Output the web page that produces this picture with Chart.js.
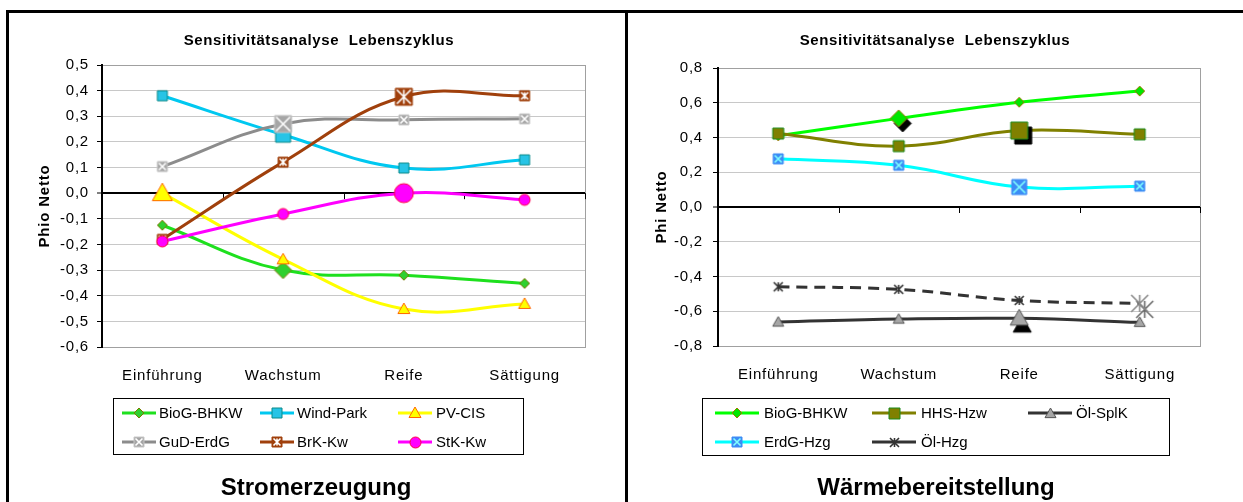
<!DOCTYPE html>
<html lang="de">
<head>
<meta charset="UTF-8">
<title>Sensitivitätsanalyse Lebenszyklus</title>
<script src="https://cdn.jsdelivr.net/npm/chart.js@4.4.1/dist/chart.umd.min.js"></script>
<style>
    body { margin: 0; width: 1243px; height: 502px; overflow: hidden; background: #fff; position: relative; }
    .panel { position: absolute; top: 10px; height: 600px; border-left: 3px solid #000; border-top: 3px solid #000; }
    #p1 { left: 6px; width: 640px; }
    #p2 { left: 625px; width: 700px; }
    canvas { position: absolute; top: 0; }
    #c1 { left: 0; }
    #c2 { left: 626px; }
</style>
</head>
<body>
<div class="panel" id="p1"></div>
<div class="panel" id="p2"></div>
<canvas id="c1" width="626" height="502"></canvas>
<canvas id="c2" width="617" height="502"></canvas>
<script>
// ---- data ----
const categories = ['Einführung', 'Wachstum', 'Reife', 'Sättigung'];

// Stromerzeugung
const stromNames = ['BioG-BHKW', 'Wind-Park', 'PV-CIS', 'GuD-ErdG', 'BrK-Kw', 'StK-Kw'];
const biogStrom = [-0.125, -0.30, -0.32, -0.352];
const windPark  = [0.38, 0.228, 0.098, 0.13];
const pvCis     = [0.0, -0.258, -0.452, -0.432];
const gudErdg   = [0.104, 0.27, 0.286, 0.29];
const brkKw     = [-0.18, 0.121, 0.376, 0.38];
const stkKw     = [-0.188, -0.081, 0.0, -0.026];
const stromHighlight = [1, 1, 0, 1, 2, 2];   // which point is drawn large
const stromTicks = [-0.6, -0.5, -0.4, -0.3, -0.2, -0.1, 0, 0.1, 0.2, 0.3, 0.4, 0.5];

// Wärmebereitstellung
const waermeNames = ['BioG-BHKW', 'HHS-Hzw', 'Öl-SplK', 'ErdG-Hzg', 'Öl-Hzg'];
const biogWaerme = [0.41, 0.51, 0.603, 0.667];
const hhsHzw     = [0.423, 0.35, 0.44, 0.418];
const oelSplk    = [-0.662, -0.645, -0.641, -0.664];
const erdgHzg    = [0.277, 0.24, 0.115, 0.12];
const oelHzg     = [-0.459, -0.474, -0.538, -0.555];
const waermeHighlight = [1, 2, 2, 2, 3];
const waermeTicks = [-0.8, -0.6, -0.4, -0.2, 0, 0.2, 0.4, 0.6, 0.8];

const fontFamily = '"Liberation Sans", Arial, sans-serif';

// ---- marker look ----
const stromStyles = [
    { line: '#1EE01E', kind: 'diamond', fill: '#2FD02F', stroke: '#7A7A00', size: 10, big: 17 },
    { line: '#00C8F0', kind: 'square', fill: '#27C4E6', stroke: '#0A8A8A', size: 10, big: 15 },
    { line: '#FFFF00', kind: 'triangle', fill: '#FFFF00', stroke: '#FF6600', size: 12, big: 20 },
    { line: '#8C8C8C', kind: 'square', fill: '#A6A6A6', stroke: '#C8C8C8', mark: { color: '#FFFFFF' }, size: 10, big: 17 },
    { line: '#A0400C', kind: 'square', fill: '#A0400C', stroke: '#A0400C', mark: { color: '#FFFFFF', star: true }, size: 10, big: 17 },
    { line: '#FF00FF', kind: 'circle', fill: '#FF00FF', stroke: '#FF0040', size: 11, big: 19 }
];
const waermeStyles = [
    { line: '#00FF00', kind: 'diamond', fill: '#00E600', stroke: '#9A7A00', size: 10, big: 17, shadow: { dx: 4, dy: 5, color: '#000' } },
    { line: '#808000', kind: 'square', fill: '#808000', stroke: '#1A8A1A', size: 11, big: 17, shadow: { dx: 4, dy: 5, color: '#000' } },
    { line: '#333333', kind: 'triangle', fill: '#A6A6A6', stroke: '#555555', size: 11, big: 18, shadow: { dx: 3, dy: 7, color: '#000' } },
    { line: '#00FFFF', kind: 'square', fill: '#3C8CF5', stroke: '#3C8CF5', mark: { color: '#7FFFFF' }, size: 10, big: 15 },
    { line: '#333333', kind: 'star', fill: '#333333', stroke: '#333333', bigStroke: '#8A8A8A', size: 9, big: 17, dash: [11, 7], shadow: { dx: 5, dy: 6, color: '#6A6A6A' } }
];

function paintShape(g, kind, x, y, s, fill, stroke, mark) {
    const h = s / 2;
    g.lineWidth = 1;
    g.beginPath();
    if (kind === 'diamond') { g.moveTo(x, y - h); g.lineTo(x + h, y); g.lineTo(x, y + h); g.lineTo(x - h, y); g.closePath(); }
    else if (kind === 'triangle') { g.moveTo(x, y - h); g.lineTo(x + h, y + h * 0.75); g.lineTo(x - h, y + h * 0.75); g.closePath(); }
    else if (kind === 'circle') { g.arc(x, y, h, 0, Math.PI * 2); }
    else if (kind === 'square') { g.rect(x - h, y - h, s, s); }
    if (kind !== 'star') {
        g.fillStyle = fill; g.fill();
        g.strokeStyle = stroke; g.stroke();
    }
    if (kind === 'star' || mark) {
        const k = kind === 'star' ? h : h - 1.5;
        g.beginPath();
        g.moveTo(x - k, y - k); g.lineTo(x + k, y + k);
        g.moveTo(x + k, y - k); g.lineTo(x - k, y + k);
        if (kind === 'star' || mark.star) { g.moveTo(x, y - k); g.lineTo(x, y + k); }
        g.strokeStyle = kind === 'star' ? stroke : mark.color;
        g.lineWidth = 1.6;
        g.stroke();
    }
}

function makeMarker(s, size, shadow, strokeOverride) {
    const off = shadow ? Math.max(Math.abs(shadow.dx), Math.abs(shadow.dy)) : 0;
    const dim = Math.ceil(size + 4 + off * 2);
    const c = document.createElement('canvas');
    c.width = dim; c.height = dim;
    const g = c.getContext('2d');
    const m = dim / 2;
    if (shadow) paintShape(g, s.kind, m + shadow.dx, m + shadow.dy, size, shadow.color, shadow.color, null);
    paintShape(g, s.kind, m, m, size, s.fill, strokeOverride || s.stroke, s.mark);
    return c;
}

const fmt = v => (Math.abs(v) < 1e-9 ? 0 : v).toFixed(1).replace('.', ',');

// titles, legend box, right frame and zero-line ticks
const decorPlugin = {
    id: 'decor',
    beforeDraw(chart) { chart.ctx.letterSpacing = '0.8px'; },
    beforeDatasetsDraw(chart) {
        const { ctx, chartArea: a, scales: { x, y } } = chart;
        ctx.save();
        ctx.strokeStyle = '#A0A0A0'; ctx.lineWidth = 1;
        ctx.beginPath();
        ctx.moveTo(Math.round(a.right) + 0.5, a.top);
        ctx.lineTo(Math.round(a.right) + 0.5, a.bottom);
        ctx.stroke();
        const y0 = y.getPixelForValue(0);
        ctx.strokeStyle = '#000';
        ctx.beginPath();
        for (let i = 0; i <= categories.length; i++) {
            const px = Math.round(x.getPixelForValue(i - 0.5)) + 0.5;
            ctx.moveTo(px, y0); ctx.lineTo(px, y0 + 6);
        }
        ctx.stroke();
        ctx.restore();
    },
    afterDraw(chart, args, o) {
        const ctx = chart.ctx;
        ctx.save();
        ctx.fillStyle = '#000';
        ctx.textAlign = 'center'; ctx.textBaseline = 'middle';
        ctx.letterSpacing = '0.6px';
        ctx.font = 'bold 15px ' + fontFamily;
        ctx.fillText(o.title, o.titleX, 41);
        ctx.letterSpacing = '0px';
        ctx.font = 'bold 24px ' + fontFamily;
        ctx.fillText(o.caption, o.captionX, 488);

        const b = o.box;
        ctx.strokeStyle = '#000'; ctx.lineWidth = 1;
        ctx.strokeRect(b[0] + 0.5, b[1] + 0.5, b[2], b[3]);
        ctx.font = '15px ' + fontFamily;
        ctx.textAlign = 'left';
        chart.data.datasets.forEach((ds, i) => {
            const col = i % 3, row = Math.floor(i / 3);
            const yy = o.rowY[row];
            const x0 = o.lineX[col], x1 = x0 + o.lineLen;
            ctx.strokeStyle = ds.borderColor; ctx.lineWidth = 3;
            ctx.beginPath(); ctx.moveTo(x0, yy); ctx.lineTo(x1, yy); ctx.stroke();
            const mk = ds.legendMarker;
            ctx.drawImage(mk, Math.round((x0 + x1) / 2 - mk.width / 2), Math.round(yy - mk.height / 2));
            ctx.fillText(ds.label, o.textX[col], yy + 1);
        });
        ctx.restore();
    }
};

function buildChart(id, names, series, styles, highlight, ticks, lay, decor) {
    const datasets = series.map((data, i) => {
        const s = styles[i];
        const normal = makeMarker(s, s.size, null);
        const big = makeMarker(s, s.big, s.shadow, s.bigStroke);
        return {
            label: names[i],
            data: data,
            borderColor: s.line,
            backgroundColor: s.fill,
            borderWidth: 3,
            borderDash: s.dash || [],
            tension: 0.4,
            pointStyle: data.map((v, j) => j === highlight[i] ? big : normal),
            pointRadius: 4,
            pointHoverRadius: 4,
            order: series.length - i,
            clip: false,
            legendMarker: normal
        };
    });
    const last = ticks.length - 1;
    return new Chart(document.getElementById(id), {
        type: 'line',
        data: { labels: categories, datasets: datasets },
        options: {
            responsive: false,
            animation: false,
            devicePixelRatio: 1,
            layout: { padding: lay.padding },
            plugins: { legend: { display: false }, tooltip: { enabled: false }, decor: decor },
            scales: {
                x: {
                    type: 'category', offset: true,
                    grid: { display: false, drawTicks: false },
                    border: { display: true, color: '#A0A0A0', width: 1 },
                    ticks: { color: '#000', font: { size: 15, family: fontFamily }, padding: 20, maxRotation: 0, autoSkip: false },
                    afterFit: sc => { sc.height = 40; }
                },
                y: {
                    min: ticks[0], max: ticks[last],
                    afterBuildTicks: sc => { sc.ticks = ticks.map(v => ({ value: v })); },
                    afterFit: sc => { sc.width = lay.axisWidth; },
                    ticks: { color: '#000', font: { size: 15, family: fontFamily }, padding: lay.tickPad, callback: v => fmt(v) },
                    grid: {
                        color: c => {
                            if (!c.tick) return '#C8C8C8';
                            if (Math.abs(c.tick.value) < 1e-9) return '#000';
                            return c.index === last || c.index === 0 ? '#A0A0A0' : '#C8C8C8';
                        },
                        lineWidth: c => (c.tick && Math.abs(c.tick.value) < 1e-9) ? 2 : 1,
                        tickColor: '#000', tickLength: 5, tickWidth: 1
                    },
                    border: { display: true, color: '#000', width: 2 },
                    title: { display: true, text: lay.yTitle, color: '#000', font: { size: 15, weight: 'bold', family: fontFamily }, padding: { top: lay.titlePad, bottom: 0 } }
                }
            }
        },
        plugins: [decorPlugin]
    });
}

buildChart('c1', stromNames, [biogStrom, windPark, pvCis, gudErdg, brkKw, stkKw], stromStyles, stromHighlight, stromTicks,
    { padding: { left: 0, top: 65, right: 41, bottom: 115 }, axisWidth: 102, tickPad: 8, titlePad: 36, yTitle: 'Phio Netto' },
    { title: 'Sensitivitätsanalyse  Lebenszyklus', titleX: 319, caption: 'Stromerzeugung', captionX: 316,
      box: [113, 398, 410, 56], rowY: [413, 442], lineX: [122, 260, 398], lineLen: 34, textX: [159, 297, 436] });

buildChart('c2', waermeNames, [biogWaerme, hhsHzw, oelSplk, erdgHzg, oelHzg], waermeStyles, waermeHighlight, waermeTicks,
    { padding: { left: 0, top: 68, right: 43, bottom: 116 }, axisWidth: 92, tickPad: 10, titlePad: 27, yTitle: 'Phi Netto' },
    { title: 'Sensitivitätsanalyse  Lebenszyklus', titleX: 309, caption: 'Wärmebereitstellung', captionX: 310,
      box: [76, 398, 467, 57], rowY: [413, 442], lineX: [89, 246, 402], lineLen: 44, textX: [138, 295, 450] });
</script>
</body>
</html>
